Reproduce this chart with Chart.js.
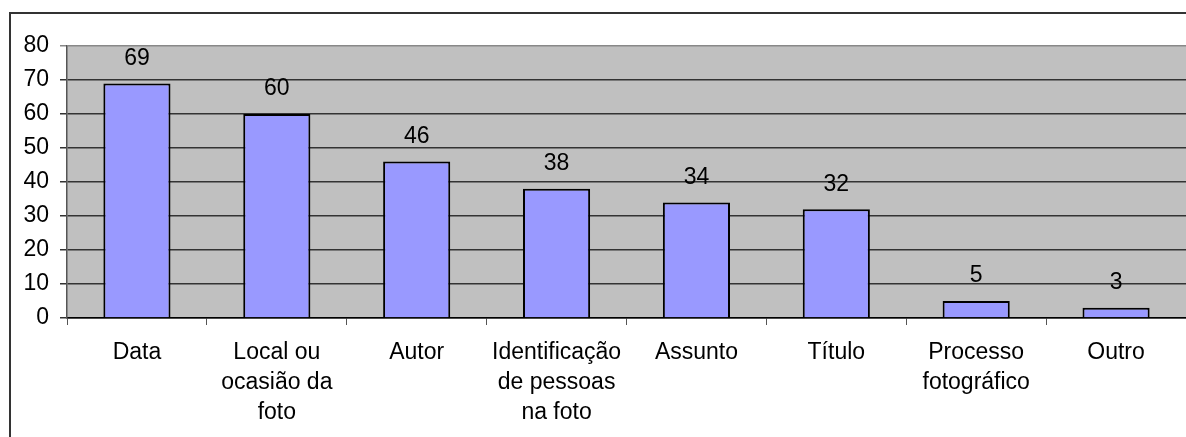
<!DOCTYPE html>
<html>
<head>
<meta charset="utf-8">
<script src="https://cdn.jsdelivr.net/npm/chart.js@4"></script>
<style>
  html, body { margin: 0; padding: 0; background: #fff; overflow: hidden; }
  #wrap { position: relative; width: 1186px; height: 437px; }
  #frame {
    position: absolute; left: 9px; top: 12px; width: 1200px; height: 440px;
    border-left: 2px solid #333; border-top: 2px solid #333;
  }
  canvas { position: absolute; left: 0; top: 0; }
</style>
</head>
<body>
<div id="wrap">
  <div id="frame"></div>
  <canvas id="chart" width="1186" height="437"></canvas>
</div>
<script>
const categories = [
  ["Data"],
  ["Local ou", "ocasião da", "foto"],
  ["Autor"],
  ["Identificação", "de pessoas", "na foto"],
  ["Assunto"],
  ["Título"],
  ["Processo", "fotográfico"],
  ["Outro"]
];
const counts = [69, 60, 46, 38, 34, 32, 5, 3];
const yTicks = [0, 10, 20, 30, 40, 50, 60, 70, 80];

const FONT = "'Liberation Sans', Arial, sans-serif";
const FSIZE = 23;

// grey plot background
const plotBg = {
  id: "plotBg",
  beforeDraw(chart) {
    const a = chart.chartArea;
    const ctx = chart.ctx;
    ctx.save();
    ctx.fillStyle = "#c0c0c0";
    ctx.fillRect(a.left, a.top, a.right - a.left, a.bottom - a.top);
    ctx.restore();
  }
};

// numbers above the bars
const barValues = {
  id: "barValues",
  afterDatasetsDraw(chart) {
    const ctx = chart.ctx;
    const meta = chart.getDatasetMeta(0);
    ctx.save();
    ctx.font = FSIZE + "px " + FONT;
    ctx.fillStyle = "#000";
    ctx.textAlign = "center";
    ctx.textBaseline = "middle";
    meta.data.forEach((bar, i) => {
      ctx.fillText(String(counts[i]), bar.x, bar.y - 25);
    });
    ctx.restore();
  }
};

new Chart(document.getElementById("chart").getContext("2d"), {
  type: "bar",
  data: {
    labels: categories,
    datasets: [{
      data: counts,
      backgroundColor: "#9999ff",
      borderColor: "#000",
      borderWidth: 2,
      barPercentage: 0.48,
      categoryPercentage: 1
    }]
  },
  options: {
    responsive: false,
    animation: false,
    layout: { padding: { top: 46, left: 0, right: 0, bottom: 0 } },
    plugins: {
      legend: { display: false },
      tooltip: { enabled: false }
    },
    scales: {
      x: {
        grid: {
          offset: true,
          drawOnChartArea: false,
          drawTicks: true,
          tickLength: 7,
          color: "#555"
        },
        border: { color: "#000", width: 1.5 },
        ticks: {
          autoSkip: false,
          maxRotation: 0,
          padding: 13,
          color: "#000",
          font: { family: FONT, size: FSIZE, lineHeight: 1.3 }
        },
        afterFit(scale) { scale.height = 119; }
      },
      y: {
        min: 0,
        max: 80,
        afterBuildTicks(scale) {
          scale.ticks = yTicks.map(v => ({ value: v }));
        },
        grid: {
          color: (c) => c.tick && c.tick.value === 80 ? "#888" : "#333",
          lineWidth: 1.5,
          tickLength: 7
        },
        border: { color: "#555", width: 1.5 },
        ticks: {
          padding: 11,
          color: "#000",
          font: { family: FONT, size: FSIZE }
        },
        afterFit(scale) { scale.width = 67; }
      }
    }
  },
  plugins: [plotBg, barValues]
});
</script>
</body>
</html>
